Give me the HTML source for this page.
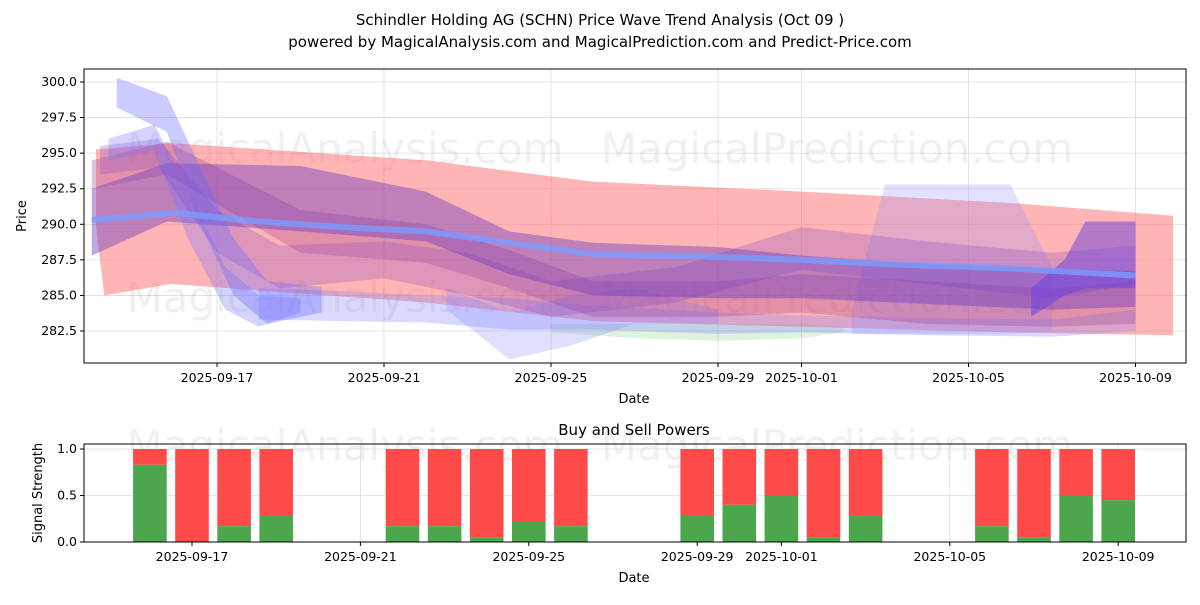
<!DOCTYPE html>
<html><head><meta charset="utf-8">
<style>
body{margin:0;background:#fff;font-family:"Liberation Sans","DejaVu Sans",sans-serif;}
svg text{font-family:"DejaVu Sans","Liberation Sans",sans-serif;}
</style></head>
<body>
<svg id="c" width="1200" height="600" xmlns="http://www.w3.org/2000/svg">
<text x="600" y="25" text-anchor="middle" font-size="15">Schindler Holding AG (SCHN) Price Wave Trend Analysis (Oct 09 )</text>
<text x="600" y="47" text-anchor="middle" font-size="15">powered by MagicalAnalysis.com and MagicalPrediction.com and Predict-Price.com</text>
<g id="main"></g>
<g id="sub"></g>
</svg>
<script>
const priceTicks=[282.5,285.0,287.5,290.0,292.5,295.0,297.5,300.0];
const dateTicks=['2025-09-17','2025-09-21','2025-09-25','2025-09-29','2025-10-01','2025-10-05','2025-10-09'];
const redDates=['09-14.1','09-14.3','09-15.9','09-22','09-26','10-01','10-06','10-09.9'];
const redUpper=[295.3,295.3,295.7,294.5,293.0,292.3,291.5,290.6];
const redLower=[289.8,285.0,285.8,284.5,283.2,282.8,282.4,282.2];
const purpDates=['09-14','09-15.8','09-19','09-22','09-24','09-26','09-29','10-01','10-04','10-07','10-09'];
const purpUpper=[292.5,294.3,294.1,292.3,289.5,288.7,288.4,287.8,287.2,286.9,286.7];
const purpLower=[287.8,290.2,289.5,288.8,286.5,285.0,284.8,284.8,284.4,284.0,284.2];
const purp2Upper=[294.5,295.8,291.0,290.0,288.2,286.0,286.0,286.5,286.0,285.5,286.0];
const purp2Lower=[292.5,293.5,288.0,287.3,285.5,283.5,283.5,283.8,283.0,282.8,283.0];
const strandDates=['09-14.2','09-15.6','09-17','09-18.5','09-21','09-23','09-25','09-28','10-01','10-04','10-07','10-09'];
const strandUpper=[295.5,296.0,291.0,288.5,288.8,288.0,286.0,287.0,289.8,288.8,288.0,288.5];
const strandLower=[293.5,294.0,288.0,285.5,286.2,285.0,283.5,284.5,286.8,285.8,284.8,285.8];
const lowDates=['09-18','09-20','09-22','09-24','09-26','09-29','10-01','10-04','10-07','10-09'];
const lowUpper=[285.5,285.3,285.0,284.8,284.3,283.8,283.6,283.4,283.3,284.0];
const lowLower=[283.3,283.2,283.1,282.6,282.6,282.3,282.4,282.2,282.1,282.5];
const greenDates=['09-25','09-27','09-29','10-01','10-02'];
const greenUpper=[283.0,283.0,283.0,283.0,282.8];
const greenLower=[282.4,282.0,281.8,282.0,282.4];
const dipDates=['09-22.5','09-24','09-25.5','09-27','09-29'];
const dipUpper=[285.5,283.8,285.0,285.5,284.0];
const dipLower=[284.0,280.5,281.5,283.0,283.0];
const fallDates=['09-14.6','09-15.8','09-16.6','09-17.4','09-18.2','09-19.5'];
const fallUpper=[300.3,299.0,294.0,289.0,286.0,285.6];
const fallLower=[298.2,296.5,290.0,285.0,283.0,283.8];
const fall2Dates=['09-14.4','09-15.5','09-16.3','09-17.2','09-18','09-19'];
const fall2Upper=[296.0,297.0,292.5,287.0,285.0,284.8];
const fall2Lower=[294.5,295.2,289.0,284.0,282.8,283.8];
const rightDates=['10-06.5','10-07.3','10-07.8','10-09'];
const rightUpper=[285.5,287.5,290.2,290.2];
const rightLower=[283.5,285.0,285.5,285.5];
const rectDates=['10-02.2','10-03','10-06','10-07'];
const rectUpper=[284.0,292.8,292.8,287.0];
const rectLower=[282.3,282.3,282.3,282.5];
const lineDates=['09-14','09-16','09-18','09-20','09-22','09-24','09-26','09-29','10-01','10-03','10-06','10-09'];
const lineVals=[290.3,290.8,290.2,289.8,289.5,288.7,287.9,287.7,287.5,287.2,286.9,286.4];
const barDates=['09-16','09-17','09-18','09-19','09-22','09-23','09-24','09-25','09-26','09-29','09-30','10-01','10-02','10-03','10-06','10-07','10-08','10-09'];
const buyVals=[0.83,0.0,0.17,0.28,0.17,0.17,0.05,0.22,0.17,0.28,0.4,0.5,0.05,0.28,0.17,0.05,0.5,0.45];
const subTicks=[0.0,0.5,1.0];

const NS='http://www.w3.org/2000/svg';
function dayIdx(s){s=s.replace('2025-','');let [m,d]=s.split('-');m=+m;d=parseFloat(d);return m===9?d-17:d+30-17;}
const X=s=>217+dayIdx(s)*41.75;
const Y=p=>82+(300-p)*14.229;
const Y2=v=>542-v*93;
const X2=s=>192+dayIdx(s)*42.1;
function mk(parent,tag,attrs){const e=document.createElementNS(NS,tag);for(const k in attrs)e.setAttribute(k,attrs[k]);parent.appendChild(e);return e;}
const main=document.getElementById('main'),sub=document.getElementById('sub');
priceTicks.forEach(p=>{const l=mk(main,'line',{x1:84,x2:1186,y1:Y(p),y2:Y(p),stroke:'#ddd','stroke-width':0.8});

const t=mk(main,'text',{x:77,y:Y(p)+4,'text-anchor':'end','font-size':12.5});t.textContent=p.toFixed(1);

mk(main,'line',{x1:80,x2:84,y1:Y(p),y2:Y(p),stroke:'#000'});});
dateTicks.forEach(d=>{const l=mk(main,'line',{x1:X(d),x2:X(d),y1:69,y2:363,stroke:'#ddd','stroke-width':0.8});

mk(main,'line',{x1:X(d),x2:X(d),y1:363,y2:367,stroke:'#000'});
const t=mk(main,'text',{x:X(d),y:382,'text-anchor':'middle','font-size':12.5});t.textContent=d;

const l2=mk(sub,'line',{x1:X2(d),x2:X2(d),y1:444,y2:542,stroke:'#ddd','stroke-width':0.8});

mk(sub,'line',{x1:X2(d),x2:X2(d),y1:542,y2:546,stroke:'#000'});
const t2=mk(sub,'text',{x:X2(d),y:561,'text-anchor':'middle','font-size':12.5});t2.textContent=d;
});
[['MagicalAnalysis.com',345,163],['MagicalPrediction.com',837,163],['MagicalAnalysis.com',345,312],['MagicalPrediction.com',837,312],['MagicalAnalysis.com',345,460],['MagicalPrediction.com',837,460]].forEach(w=>{
const t=mk(main,'text',{x:w[1],y:w[2],'text-anchor':'middle','font-size':42,fill:'#000','fill-opacity':0.06});t.textContent=w[0];
});
function band(dates,up,lo,color,op,name){
const pts=dates.map((d,i)=>X(d)+','+Y(up[i])).concat(dates.map((d,i)=>X(d)+','+Y(lo[i])).reverse());
const p=mk(main,'polygon',{points:pts.join(' '),fill:color,'fill-opacity':op});
}
band(greenDates,greenUpper,greenLower,'#60c060',0.2,'green-band');
band(redDates,redUpper,redLower,'#ff6b6b',0.5,'red-forecast-band');
band(lowDates,lowUpper,lowLower,'#8080ff',0.3,'lower-blue-band');
band(dipDates,dipUpper,dipLower,'#8080ff',0.25,'dip-blue-band');
band(rectDates,rectUpper,rectLower,'#8a8aff',0.25,'blue-plateau-band');
band(purpDates,purp2Upper,purp2Lower,'#a04090',0.3,'purple-lower-band');
band(strandDates,strandUpper,strandLower,'#9050c0',0.3,'purple-strand-band');
band(purpDates,purpUpper,purpLower,'#7040c0',0.45,'purple-upper-band');
band(fall2Dates,fall2Upper,fall2Lower,'#7070ff',0.3,'falling-blue-band-2');
band(fallDates,fallUpper,fallLower,'#6a6aff',0.35,'falling-blue-band');
band(rightDates,rightUpper,rightLower,'#6a40e0',0.5,'rising-right-band');
const lp=mk(main,'polyline',{points:lineDates.map((d,i)=>X(d)+','+Y(lineVals[i])).join(' '),fill:'none',stroke:'#7a9cff','stroke-width':6,'stroke-opacity':0.8});

mk(main,'rect',{x:84,y:69,width:1102,height:294,fill:'none',stroke:'#000','stroke-width':1});
let t=mk(main,'text',{x:634,y:403,'text-anchor':'middle','font-size':13});t.textContent='Date';

t=mk(main,'text',{x:26,y:216,'text-anchor':'middle','font-size':13,transform:'rotate(-90 26 216)'});t.textContent='Price';

subTicks.forEach(v=>{const l=mk(sub,'line',{x1:84,x2:1186,y1:Y2(v),y2:Y2(v),stroke:'#ddd','stroke-width':0.8});

mk(sub,'line',{x1:80,x2:84,y1:Y2(v),y2:Y2(v),stroke:'#000'});
const tt=mk(sub,'text',{x:77,y:Y2(v)+4,'text-anchor':'end','font-size':12.5});tt.textContent=v.toFixed(1);
});
barDates.forEach((d,i)=>{const x=X2(d)-16.8,b=buyVals[i];
const r=mk(sub,'rect',{x:x,y:Y2(1),width:33.6,height:Y2(b)-Y2(1),fill:'#ff4a4a'});

const g=mk(sub,'rect',{x:x,y:Y2(b),width:33.6,height:Y2(0)-Y2(b),fill:'#4ca64c'});
});
mk(sub,'rect',{x:84,y:444,width:1102,height:98,fill:'none',stroke:'#000','stroke-width':1});
t=mk(sub,'text',{x:634,y:435,'text-anchor':'middle','font-size':15});t.textContent='Buy and Sell Powers';

t=mk(sub,'text',{x:634,y:582,'text-anchor':'middle','font-size':13});t.textContent='Date';

t=mk(sub,'text',{x:42,y:493,'text-anchor':'middle','font-size':13,transform:'rotate(-90 42 493)'});t.textContent='Signal Strength';

</script>
</body></html>
